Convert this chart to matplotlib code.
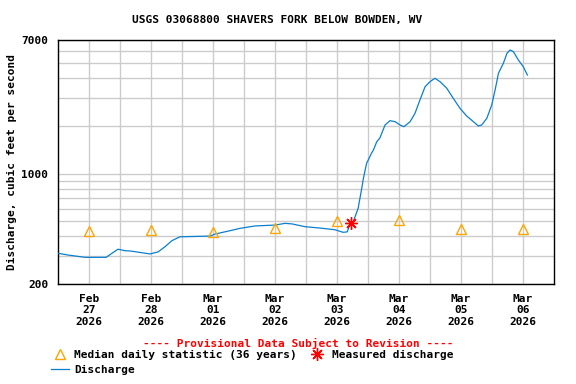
import matplotlib
matplotlib.use("Agg")
import matplotlib.pyplot as plt
from matplotlib.lines import Line2D
from matplotlib.ticker import NullFormatter

# Discharge, hours since Feb 27 00:00 and cubic feet per second
hours = [0, 3.9, 10.5, 18.6, 20.9, 23.2, 25.9, 28.3, 35.6, 38.7, 41.4, 44.1, 47.2,
         58.8, 60.8, 66.6, 70.5, 76.3, 84.0, 87.9, 90.6, 95.6, 101.4, 107.2, 110.3,
         111.9, 113.0, 114.2, 115.4, 116.2, 117.6, 117.9, 118.1, 118.9, 119.5, 120.1,
         121.4, 122.1, 123.4, 124.6, 126.6, 128.5, 130.5, 132.4, 133.9, 136.3, 138.2,
         140.1, 142.1, 144.0, 145.9, 147.9, 150.5, 153.0, 155.6, 158.2, 160.8, 162.7,
         164.0, 166.0, 167.9, 169.2, 170.5, 172.4, 173.8, 175.0, 176.3, 178.2, 180.1,
         181.7]
flow = [313, 305, 295, 295, 313, 332, 325, 323, 310, 319, 344, 376, 398,
        402, 414, 435, 450, 466, 472, 484, 480, 461, 452, 441, 425,
        427, 472, 494, 555, 605, 810, 867, 910, 1053, 1166, 1218,
        1349, 1409, 1591, 1679, 2028, 2160, 2129, 2028, 1979, 2129, 2407,
        2920, 3545, 3813, 4007, 3813, 3463, 2993, 2588, 2313, 2129, 2000,
        2028, 2237, 2715, 3378, 4308, 4986, 5768, 6052, 5902, 5232, 4743,
        4202]

# Median daily statistic, one per day at noon
median_hours = [12, 36, 60, 84, 108, 132, 156, 180]
median_vals = [433, 437, 428, 450, 503, 507, 446, 446]

# Measured discharge
meas_hours = [113.5]
meas_vals = [490]

day_labels = ["Feb\n27\n2026", "Feb\n28\n2026", "Mar\n01\n2026", "Mar\n02\n2026",
              "Mar\n03\n2026", "Mar\n04\n2026", "Mar\n05\n2026", "Mar\n06\n2026"]

plt.rcParams['font.family'] = 'DejaVu Sans Mono'
plt.rcParams['font.weight'] = 'bold'
plt.rcParams['axes.labelweight'] = 'bold'
plt.rcParams['font.size'] = 8

line_col = '#0a7fcf'
fig = plt.figure(figsize=(5.76, 3.84), dpi=100)
ax = fig.add_axes([58/576, 1-284/384, 496/576, 244/384])

ax.plot(hours, flow, color=line_col, linewidth=0.9, zorder=3)
ax.plot(median_hours, median_vals, linestyle='none', marker='^', markersize=7,
        markerfacecolor='none', markeredgecolor='#ffa500', markeredgewidth=1, zorder=4)
ax.plot(meas_hours, meas_vals, linestyle='none', marker=(8, 2, 0), markersize=9,
        color='red', markeredgewidth=1, zorder=5)

ax.set_yscale('log')
ax.set_ylim(200, 7000)
ax.set_xlim(0, 192)
ax.set_yticks([200, 1000, 7000])
ax.set_yticklabels(['200', '1000', '7000'])
ax.set_yticks([300, 400, 500, 600, 700, 800, 900, 2000, 3000, 4000, 5000, 6000], minor=True)
ax.yaxis.set_minor_formatter(NullFormatter())
ax.set_xticks([24 * k for k in range(1, 8)])
ax.set_xticklabels([])
ax.set_xticks(median_hours, minor=True)
ax.set_xticklabels(day_labels, minor=True)
ax.tick_params(which='both', length=0)
ax.tick_params(axis='y', pad=7)
ax.tick_params(axis='x', which='minor', pad=7)
ax.grid(True, which='both', color='#cccccc', linewidth=1)
ax.set_axisbelow(True)
for s in ax.spines.values():
    s.set_linewidth(1)

ax.set_ylabel('Discharge, cubic feet per second', fontweight='bold')
ax.yaxis.set_label_coords(-0.082, 0.5)
fig.text(277/576, 1-20/384, 'USGS 03068800 SHAVERS FORK BELOW BOWDEN, WV',
         ha='center', va='center')
fig.text(298/576, 1-343/384, '---- Provisional Data Subject to Revision ----',
         ha='center', va='center', color='red')

h_med = Line2D([], [], linestyle='none', marker='^', markersize=7,
               markerfacecolor='none', markeredgecolor='#ffa500')
h_dis = Line2D([], [], color=line_col, linewidth=0.9)
h_meas = Line2D([], [], linestyle='none', marker=(8, 2, 0), markersize=9, color='red')
fig.legend([h_med, h_dis, h_meas],
           ['Median daily statistic (36 years)', 'Discharge', 'Measured discharge'],
           ncol=2, loc='upper left', bbox_to_anchor=(51/576, 1-350/384),
           frameon=False, borderpad=0, borderaxespad=0, handlelength=1.6,
           handletextpad=0.5, columnspacing=1.0, labelspacing=0.45)

fig.savefig('out.png', dpi=100)
